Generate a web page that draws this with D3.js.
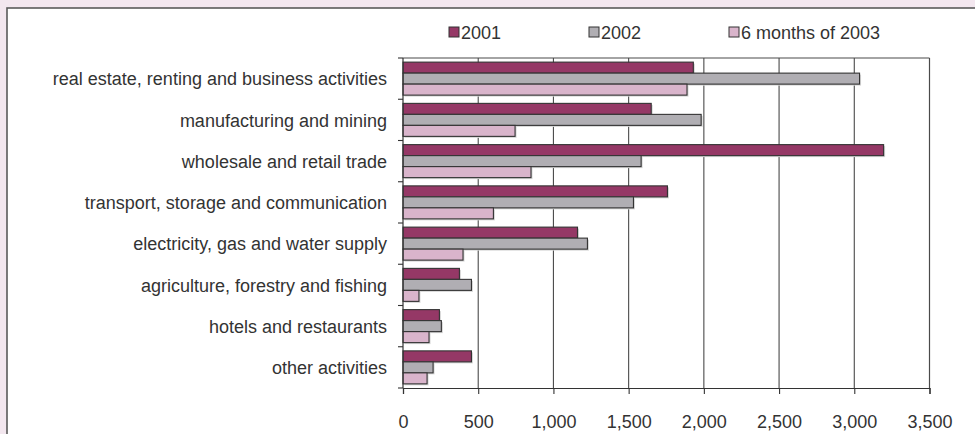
<!DOCTYPE html>
<html>
<head>
<meta charset="utf-8">
<script src="https://cdn.jsdelivr.net/npm/d3@7/dist/d3.min.js"></script>
<style>
  html, body { margin: 0; padding: 0; background: #f3e7ef; }
  svg { display: block; }
  text { font-family: "Liberation Sans", Arial, sans-serif; fill: #333; }
</style>
</head>
<body>
<svg id="chart" width="975" height="434"></svg>
<script>
// Activity sectors, top to bottom
const categories = [
  "real estate, renting and business activities",
  "manufacturing and mining",
  "wholesale and retail trade",
  "transport, storage and communication",
  "electricity, gas and water supply",
  "agriculture, forestry and fishing",
  "hotels and restaurants",
  "other activities"
];

const seriesNames = ["2001", "2002", "6 months of 2003"];

const values2001 = [1930, 1650, 3195, 1758, 1160, 375, 242, 455];
const values2002 = [3035, 1982, 1583, 1532, 1226, 455, 255, 200];
const values2003 = [1888, 745, 851, 601, 399, 106, 173, 160];

const xTicks = [0, 500, 1000, 1500, 2000, 2500, 3000, 3500];

const colors = ["#953866", "#b0aeb3", "#d9b4cb"];

const series = [values2001, values2002, values2003];

const FONT_SIZE = 18;

const svg = d3.select("#chart");

// Outer frame
svg.append("rect")
  .attr("x", 7).attr("y", 8)
  .attr("width", 1000).attr("height", 500)
  .attr("fill", "#fff")
  .attr("stroke", "#5a5a5a")
  .attr("stroke-width", 1.6);

const plot = { left: 403, right: 929.5, top: 58, bottom: 388 };

const x = d3.scaleLinear().domain([0, 3500]).range([plot.left, plot.right]);

const y0 = d3.scaleBand()
  .domain(categories)
  .range([plot.top, plot.bottom])
  .paddingInner(0.2)
  .paddingOuter(0.1);

const y1 = d3.scaleBand()
  .domain(d3.range(seriesNames.length))
  .range([0, y0.bandwidth()]);

// Vertical gridlines
svg.append("g")
  .selectAll("line")
  .data(xTicks.slice(1))
  .join("line")
  .attr("x1", d => x(d)).attr("x2", d => x(d))
  .attr("y1", plot.top).attr("y2", plot.bottom)
  .attr("stroke", "#4a4a4a")
  .attr("stroke-width", 1.1);

// Plot border (top)
svg.append("line")
  .attr("x1", plot.left).attr("x2", plot.right)
  .attr("y1", plot.top).attr("y2", plot.top)
  .attr("stroke", "#4a4a4a").attr("stroke-width", 1.1);

// Bars with soft drop shadow
const groups = svg.append("g")
  .selectAll("g")
  .data(categories)
  .join("g")
  .attr("transform", c => `translate(0,${y0(c)})`);

const barData = (c, i) => series.map((s, k) => ({ k, v: s[i] }));

groups.selectAll("rect.shadow")
  .data(barData)
  .join("rect")
  .attr("class", "shadow")
  .attr("x", x(0) + 1.5)
  .attr("y", d => y1(d.k) + 1.5)
  .attr("width", d => x(d.v) - x(0))
  .attr("height", y1.bandwidth())
  .attr("fill", "#d6d6d6");

groups.selectAll("rect.bar")
  .data(barData)
  .join("rect")
  .attr("class", "bar")
  .attr("x", x(0))
  .attr("y", d => y1(d.k))
  .attr("width", d => x(d.v) - x(0))
  .attr("height", y1.bandwidth())
  .attr("fill", d => colors[d.k])
  .attr("stroke", "#333")
  .attr("stroke-width", 1.1);

// X axis
const xAxis = d3.axisBottom(x)
  .tickValues(xTicks)
  .tickSize(6)
  .tickPadding(21)
  .tickFormat(d3.format(","));

const gx = svg.append("g")
  .attr("transform", `translate(0,${plot.bottom})`)
  .call(xAxis);
gx.select(".domain").attr("stroke", "#333").attr("stroke-width", 1.2);
gx.selectAll(".tick line").attr("stroke", "#333").attr("stroke-width", 1.1);
gx.selectAll(".tick text")
  .attr("font-size", FONT_SIZE)
  .attr("font-family", "Liberation Sans, Arial, sans-serif")
  .attr("fill", "#333");

// Y axis: ticks at category boundaries
const boundaries = categories.map(c => y0(c) - y0.step() * y0.paddingOuter());
boundaries.push(plot.bottom);

svg.append("line")
  .attr("x1", plot.left).attr("x2", plot.left)
  .attr("y1", plot.top).attr("y2", plot.bottom)
  .attr("stroke", "#333").attr("stroke-width", 1.2);

svg.append("g")
  .selectAll("line")
  .data(boundaries)
  .join("line")
  .attr("x1", plot.left - 5).attr("x2", plot.left)
  .attr("y1", d => d).attr("y2", d => d)
  .attr("stroke", "#333").attr("stroke-width", 1.1);

// Right border of plot
svg.append("line")
  .attr("x1", plot.right).attr("x2", plot.right)
  .attr("y1", plot.top).attr("y2", plot.bottom)
  .attr("stroke", "#4a4a4a").attr("stroke-width", 1.1);

// Category labels
svg.append("g")
  .selectAll("text")
  .data(categories)
  .join("text")
  .attr("x", 387)
  .attr("y", c => y0(c) + y0.bandwidth() / 2)
  .attr("dy", "0.37em")
  .attr("text-anchor", "end")
  .attr("font-size", FONT_SIZE)
  .text(c => c);

// Legend
const legend = svg.append("g")
  .selectAll("g")
  .data(seriesNames)
  .join("g")
  .attr("transform", (d, i) => `translate(${449 + i * 140},27)`);

legend.append("rect")
  .attr("width", 10).attr("height", 10)
  .attr("fill", (d, i) => colors[i])
  .attr("stroke", "#333").attr("stroke-width", 1);

legend.append("text")
  .attr("x", 12).attr("y", 11.5)
  .attr("font-size", FONT_SIZE)
  .text(d => d);
</script>
</body>
</html>
